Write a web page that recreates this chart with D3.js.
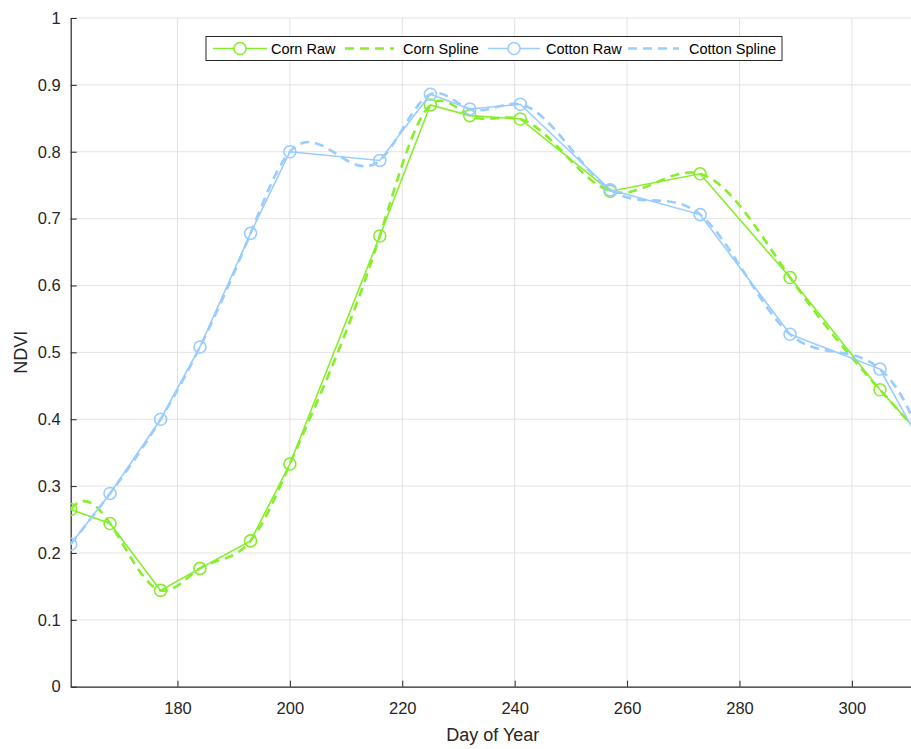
<!DOCTYPE html>
<html>
<head>
<meta charset="utf-8">
<script src="https://cdn.jsdelivr.net/npm/d3@7"></script>
<style>
  html, body { margin: 0; padding: 0; background: #fff; }
  svg { display: block; font-family: "Liberation Sans", Arial, Helvetica, sans-serif; }
</style>
</head>
<body>
<svg id="chart" width="911" height="749"></svg>
<script>
// Acquisition days (day of year)
const days = [161, 168, 177, 184, 193, 200, 216, 225, 232, 241, 257, 273, 289, 305, 313];
// NDVI observations per crop
const cornNDVI   = [0.265, 0.244, 0.144, 0.177, 0.218, 0.333, 0.674, 0.870, 0.854, 0.849, 0.741, 0.767, 0.612, 0.444, 0.369];
const cottonNDVI = [0.213, 0.289, 0.400, 0.508, 0.678, 0.800, 0.787, 0.886, 0.864, 0.871, 0.743, 0.706, 0.527, 0.475, 0.353];
// Axis ticks
const xTicks = [180, 200, 220, 240, 260, 280, 300];
const yTicks = [0, 0.1, 0.2, 0.3, 0.4, 0.5, 0.6, 0.7, 0.8, 0.9, 1];
// Legend entries
const legendLabels = ["Corn Raw", "Corn Spline", "Cotton Raw", "Cotton Spline"];

const cornColor = "#86ee2a";
const cottonColor = "#99ccff";
const axisColor = "#262626";

// d3 curve factory: not-a-knot cubic spline of y as a function of x,
// emitted as exact cubic Bézier segments between the nodes.
function curveSplineX(context) {
  let xs = [], ys = [];
  return {
    areaStart() {}, areaEnd() {},
    lineStart() { xs = []; ys = []; },
    point(px, py) { xs.push(+px); ys.push(+py); },
    lineEnd() {
      const n = xs.length;
      if (n === 0) return;
      context.moveTo(xs[0], ys[0]);
      if (n < 4) { for (let i = 1; i < n; i++) context.lineTo(xs[i], ys[i]); return; }
      const h = d3.range(n - 1).map(i => xs[i + 1] - xs[i]);
      const A = d3.range(n).map(() => new Array(n + 1).fill(0));
      // not-a-knot at the second node
      A[0][0] = h[1]; A[0][1] = -(h[0] + h[1]); A[0][2] = h[0];
      for (let i = 1; i < n - 1; i++) {
        A[i][i - 1] = h[i - 1];
        A[i][i] = 2 * (h[i - 1] + h[i]);
        A[i][i + 1] = h[i];
        A[i][n] = 6 * ((ys[i + 1] - ys[i]) / h[i] - (ys[i] - ys[i - 1]) / h[i - 1]);
      }
      // not-a-knot at the second-to-last node
      A[n - 1][n - 3] = h[n - 2]; A[n - 1][n - 2] = -(h[n - 3] + h[n - 2]); A[n - 1][n - 1] = h[n - 3];
      // Gauss-Jordan elimination with partial pivoting
      for (let c = 0; c < n; c++) {
        let p = c;
        for (let r = c + 1; r < n; r++) if (Math.abs(A[r][c]) > Math.abs(A[p][c])) p = r;
        [A[c], A[p]] = [A[p], A[c]];
        for (let r = 0; r < n; r++) {
          if (r === c) continue;
          const f = A[r][c] / A[c][c];
          if (f === 0) continue;
          for (let k = c; k <= n; k++) A[r][k] -= f * A[c][k];
        }
      }
      const M = d3.range(n).map(i => A[i][n] / A[i][i]);
      const slope = i => i < n - 1
        ? (ys[i + 1] - ys[i]) / h[i] - h[i] * (2 * M[i] + M[i + 1]) / 6
        : (ys[n - 1] - ys[n - 2]) / h[n - 2] + h[n - 2] * (M[n - 2] + 2 * M[n - 1]) / 6;
      for (let i = 0; i < n - 1; i++) {
        const m0 = slope(i), m1 = slope(i + 1), d = h[i] / 3;
        context.bezierCurveTo(xs[i] + d, ys[i] + m0 * d, xs[i + 1] - d, ys[i + 1] - m1 * d, xs[i + 1], ys[i + 1]);
      }
    }
  };
}

const svg = d3.select("#chart");
const plotLeft = 70.7, plotTop = 18, plotBottom = 686.7;
const pxPerDay = (851.7 - 177.3) / 120;

const x = d3.scaleLinear().domain([161, 321]).range([plotLeft, plotLeft + 160 * pxPerDay]);
const y = d3.scaleLinear().domain([0, 1]).range([plotBottom, plotTop]);
const plotRight = x(321);

svg.append("defs").append("clipPath").attr("id", "plotClip")
  .append("rect").attr("x", plotLeft).attr("y", plotTop - 10)
  .attr("width", plotRight - plotLeft).attr("height", plotBottom - plotTop + 10);

// Grid
const grid = svg.append("g").attr("stroke", "#e3e3e3").attr("stroke-width", 1);
grid.selectAll(".gx").data(xTicks).join("line")
  .attr("x1", d => x(d)).attr("x2", d => x(d)).attr("y1", plotTop).attr("y2", plotBottom);
grid.selectAll(".gy").data(yTicks.filter(d => d > 0)).join("line")
  .attr("x1", plotLeft).attr("x2", plotRight).attr("y1", d => y(d)).attr("y2", d => y(d));

// Axes (ticks drawn inward)
const xAxis = svg.append("g").attr("transform", `translate(0,${plotBottom})`)
  .call(d3.axisBottom(x).tickValues(xTicks).tickSize(-6).tickSizeOuter(0).tickPadding(16).tickFormat(d3.format("d")));
const yAxis = svg.append("g").attr("transform", `translate(${plotLeft},0)`)
  .call(d3.axisLeft(y).tickValues(yTicks).tickSize(-6).tickSizeOuter(0).tickPadding(10).tickFormat(d => d3.format("~g")(d)));
[xAxis, yAxis].forEach(a => {
  a.select(".domain").attr("stroke", axisColor).attr("stroke-width", 1.2);
  a.selectAll(".tick line").attr("stroke", axisColor);
  a.selectAll(".tick text").attr("fill", axisColor).style("font-size", "16.5px")
    .style("font-family", "'Liberation Sans', Arial, sans-serif");
});

svg.append("text").attr("x", (plotLeft + 911) / 2 + 2).attr("y", 741).attr("text-anchor", "middle")
  .attr("fill", axisColor).style("font-size", "18px").text("Day of Year");
svg.append("text").attr("transform", `translate(27,${(plotTop + plotBottom) / 2}) rotate(-90)`).attr("text-anchor", "middle")
  .attr("fill", axisColor).style("font-size", "18px").text("NDVI");

// Series
const series = [
  { values: cornNDVI, color: cornColor },
  { values: cottonNDVI, color: cottonColor }
];
const plot = svg.append("g").attr("clip-path", "url(#plotClip)");
const rawLine = d3.line().x((d, i) => x(days[i])).y(d => y(d));
const splineLine = d3.line().x((d, i) => x(days[i])).y(d => y(d)).curve(curveSplineX);

series.forEach(s => {
  plot.append("path").datum(s.values).attr("d", rawLine)
    .attr("fill", "none").attr("stroke", s.color).attr("stroke-width", 1.6);
  plot.selectAll(null).data(s.values).join("circle")
    .attr("cx", (d, i) => x(days[i])).attr("cy", d => y(d)).attr("r", 6)
    .attr("fill", "none").attr("stroke", s.color).attr("stroke-width", 1.6);
  plot.append("path").datum(s.values).attr("d", splineLine)
    .attr("fill", "none").attr("stroke", s.color).attr("stroke-width", 2.6)
    .attr("stroke-dasharray", "9,6");
});

// Legend
const lg = svg.append("g");
lg.append("rect").attr("x", 206).attr("y", 36.5).attr("width", 576).attr("height", 24)
  .attr("fill", "#fff").attr("stroke", axisColor).attr("stroke-width", 1);
const entries = [
  { label: legendLabels[0], color: cornColor, dashed: false, x0: 213, x1: 267, tx: 271 },
  { label: legendLabels[1], color: cornColor, dashed: true, x0: 345, x1: 394, tx: 403 },
  { label: legendLabels[2], color: cottonColor, dashed: false, x0: 488, x1: 540, tx: 546 },
  { label: legendLabels[3], color: cottonColor, dashed: true, x0: 628, x1: 679, tx: 689 }
];
const ly = 48.5;
entries.forEach(e => {
  lg.append("line").attr("x1", e.x0).attr("x2", e.x1).attr("y1", ly).attr("y2", ly)
    .attr("stroke", e.color).attr("stroke-width", e.dashed ? 2.6 : 1.6)
    .attr("stroke-dasharray", e.dashed ? "9,6" : null);
  if (!e.dashed) {
    lg.append("circle").attr("cx", (e.x0 + e.x1) / 2).attr("cy", ly).attr("r", 6)
      .attr("fill", "#fff").attr("stroke", e.color).attr("stroke-width", 1.6);
  }
  lg.append("text").attr("x", e.tx).attr("y", ly + 5).attr("fill", "#000")
    .style("font-size", "14.5px").text(e.label);
});
</script>
</body>
</html>
